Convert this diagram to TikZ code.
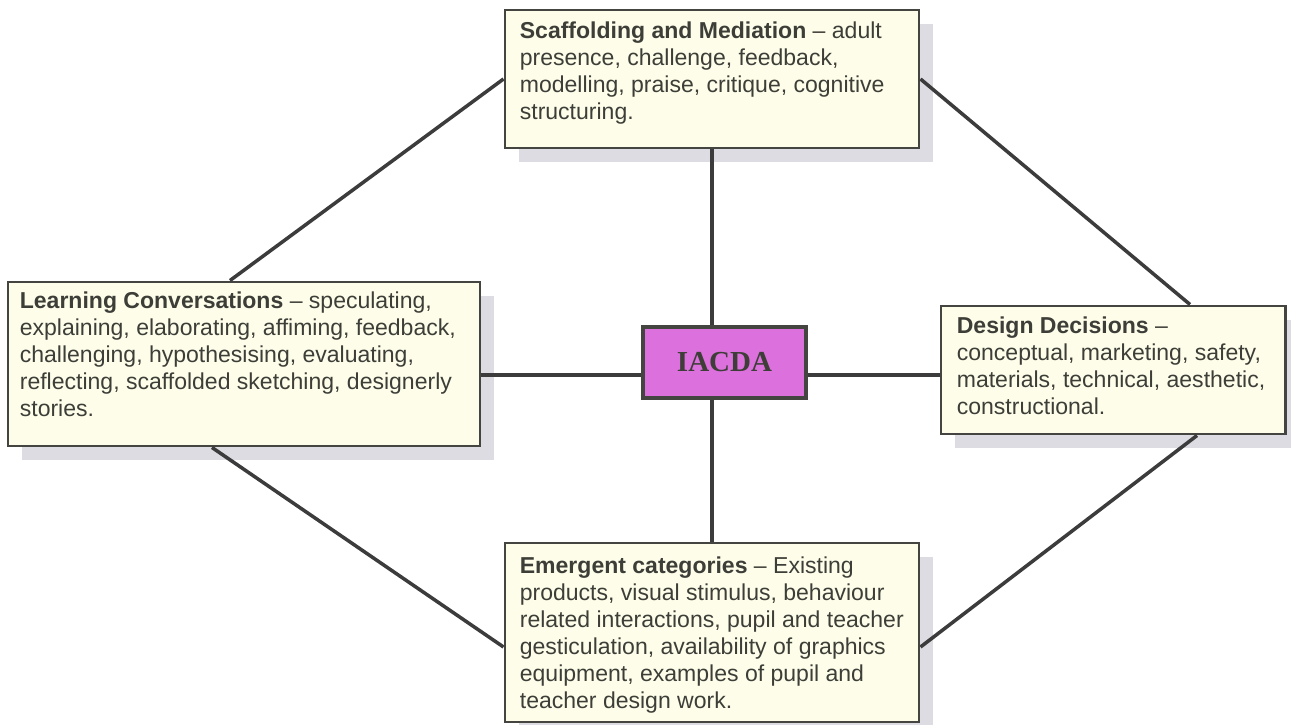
\documentclass[tikz,border=0pt]{standalone}
\usepackage{fontspec}
\setmainfont{Liberation Sans}
\newfontfamily\hubfont{Liberation Serif}
\usetikzlibrary{calc,positioning,shadows}
\definecolor{catfill}{RGB}{253,253,234}
\definecolor{catdraw}{RGB}{68,68,64}
\definecolor{cattxt}{RGB}{62,62,56}
\definecolor{catshadow}{RGB}{220,220,226}
\definecolor{hubfill}{RGB}{220,112,220}
\definecolor{linkgrey}{RGB}{60,60,60}

\begin{document}
\begin{tikzpicture}[
    catbox/.style={rectangle, draw=catdraw, fill=catfill, line width=1.7pt,
                 inner sep=0pt,
                 drop shadow={shadow xshift=0.28cm, shadow yshift=-0.28cm,
                              fill=catshadow, opacity=1}},
    catlabel/.style={inner sep=0pt, align=left, text=cattxt,
                 font=\fontsize{13.1}{15.4}\selectfont},
    hub/.style={rectangle, draw=catdraw, fill=hubfill, line width=1.9pt,
                 minimum width=3.26cm, minimum height=1.42cm, text=cattxt,
                 font=\hubfont\bfseries\fontsize{16.5}{18}\selectfont},
    link/.style={draw=linkgrey, line width=2pt},
  ]
  \useasboundingbox (0,0) rectangle (25.82,-14.5);

  % Kategorije
  \node[catbox, minimum width=8.28cm, minimum height=2.76cm] (scaf) at (14.24,-1.58) {};
  \node[catbox, minimum width=9.44cm, minimum height=3.28cm] (lc) at (4.88,-7.28) {};
  \node[catbox, minimum width=6.88cm, minimum height=2.56cm] (dd) at (22.26,-7.40) {};
  \node[catbox, minimum width=8.28cm, minimum height=3.58cm] (emer) at (14.24,-12.65) {};

  \node[catlabel, below right=0.26cm and 0.32cm of scaf.north west] (scaftxt)
    {\textbf{Scaffolding and Mediation} -- adult\\
     presence, challenge, feedback,\\
     modelling, praise, critique, cognitive\\
     structuring.};
  \node[catlabel, below right=0.22cm and 0.26cm of lc.north west] (lctxt)
    {\textbf{Learning Conversations} -- speculating,\\
     explaining, elaborating, affiming, feedback,\\
     challenging, hypothesising, evaluating,\\
     reflecting, scaffolded sketching, designerly\\
     stories.};
  \node[catlabel, below right=0.24cm and 0.34cm of dd.north west] (ddtxt)
    {\textbf{Design Decisions} --\\
     conceptual, marketing, safety,\\
     materials, technical, aesthetic,\\
     constructional.};
  \node[catlabel, below right=0.30cm and 0.32cm of emer.north west] (emertxt)
    {\textbf{Emergent categories} -- Existing\\
     products, visual stimulus, behaviour\\
     related interactions, pupil and teacher\\
     gesticulation, availability of graphics\\
     equipment, examples of pupil and\\
     teacher design work.};

  % Sredina
  \node[hub] (iacda) at (14.49,-7.25) {IACDA};
  \coordinate (cross) at (14.24,-7.50);

  % Veze
  \draw[link] (scaf.south) -- (scaf.south |- iacda.north);
  \draw[link] (emer.north |- iacda.south) -- (emer.north);
  \draw[link] (lc.east |- cross) -- (iacda.west |- cross);
  \draw[link] (iacda.east |- cross) -- (dd.west |- cross);

  \draw[link] (scaf.west) -- ($(lc.north)+(-0.28,0)$);
  \draw[link] (scaf.east) -- ($(dd.north)+(1.54,0)$);
  \draw[link] ($(lc.south)+(-0.64,0)$) -- ($(emer.west)+(0,-0.29)$);
  \draw[link] ($(dd.south)+(1.68,0)$) -- ($(emer.east)+(0,-0.29)$);
\end{tikzpicture}
\end{document}
